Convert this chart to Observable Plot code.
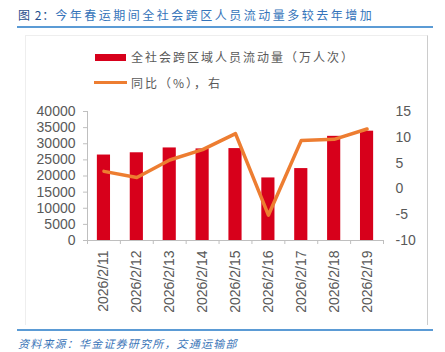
<!DOCTYPE html>
<html>
<head>
<meta charset="utf-8">
<script src="https://cdn.jsdelivr.net/npm/d3@7"></script>
<script src="https://cdn.jsdelivr.net/npm/@observablehq/plot@0.6"></script>
<style>
  html, body { margin: 0; padding: 0; background: #fff; }
  #wrap { position: relative; width: 445px; height: 352px; overflow: hidden; font-family: "Noto Sans CJK SC", "Liberation Sans", sans-serif; }
  .abs { position: absolute; white-space: nowrap; }
  #title { left: 18px; top: 6px; font-size: 12px; letter-spacing: 2.5px; color: #3574ba; line-height: 18px; }
  #title .pre { color: #1f4e8c; letter-spacing: 1px; }
  .rule { position: absolute; left: 17px; width: 416px; height: 2px; background: #5b9bd5; }
  #box { left: 25px; top: 35px; width: 401px; height: 289px; border: 1px solid #eeeeee; border-right-color: #cccccc; border-bottom: none; }
  .leg { font-size: 12px; letter-spacing: 2px; color: #595959; line-height: 16px; }
  #source { left: 18px; top: 335px; font-size: 11px; letter-spacing: 1.2px; font-style: italic; color: #3a75b8; line-height: 16px; }
  #chart { position: absolute; left: 0; top: 95px; }
</style>
</head>
<body>
<div id="wrap">
  <div class="abs" id="box"></div>
  <div class="abs" id="title"><span class="pre">图 2：</span>今年春运期间全社会跨区人员流动量多较去年增加</div>
  <div class="rule" style="top:26px"></div>
  <div class="abs" style="left:95px;top:54px;width:31px;height:7px;background:#d7001b"></div>
  <div class="abs leg" style="left:131px;top:49px">全社会跨区域人员流动量（万人次）</div>
  <div class="abs" style="left:94px;top:81px;width:33px;height:3px;background:#ed7d31"></div>
  <div class="abs leg" style="left:131px;top:75px">同比（%），右</div>
  <div id="chart"></div>
  <div class="rule" style="top:329px"></div>
  <div class="abs" id="source">资料来源：华金证券研究所，交通运输部</div>
</div>
<script>
const dates = ["2026/2/11","2026/2/12","2026/2/13","2026/2/14","2026/2/15","2026/2/16","2026/2/17","2026/2/18","2026/2/19"];
const volume = [26500, 27200, 28700, 28400, 28500, 19400, 22300, 32300, 33900];
const yoy = [3.4, 2.2, 5.6, 7.6, 10.7, -5.1, 9.4, 9.6, 11.6];
const leftTicks = [0, 5000, 10000, 15000, 20000, 25000, 30000, 35000, 40000];
const rightTicks = [-10, -5, 0, 5, 10, 15];

// right axis (-10..15) mapped onto left scale (0..40000)
const rMin = -10, rMax = 15, lMax = 40000;
const toLeft = v => (v - rMin) / (rMax - rMin) * lMax;
const fromLeft = y => Math.round(y / lMax * (rMax - rMin) + rMin);

const rows = dates.map((d, i) => ({date: d, i, volume: volume[i], yoy: yoy[i]}));
const half = 0.2;

const chart = Plot.plot({
  width: 445,
  height: 230,
  marginTop: 16,
  marginBottom: 85,
  marginLeft: 87,
  marginRight: 62,
  style: {fontFamily: "'Liberation Sans', Arial, sans-serif", fontSize: "14px", color: "#595959", background: "transparent"},
  x: {type: "linear", domain: [0, dates.length], axis: null},
  y: {domain: [0, lMax], axis: null},
  marks: [
    Plot.rectY(rows, {x1: d => d.i + 0.5 - half, x2: d => d.i + 0.5 + half, y1: 0, y2: "volume", fill: "#d7001b"}),
    Plot.ruleX([0], {y1: 0, y2: lMax, stroke: "#bfbfbf"}),
    Plot.ruleY([0], {x1: 0, x2: dates.length, stroke: "#bfbfbf"}),
    Plot.axisY({ticks: leftTicks, label: null, tickSize: 4, tickPadding: 8, stroke: "#bfbfbf", tickFormat: d => String(d), fill: "#595959", fontSize: 14}),
    Plot.axisY({anchor: "right", label: null, ticks: rightTicks.map(toLeft), tickSize: 0, tickPadding: 12, tickFormat: fromLeft, fill: "#595959", fontSize: 14}),
    Plot.axisX({ticks: d3.range(dates.length + 1), label: null, tickSize: 4, tickFormat: () => "", stroke: "#bfbfbf"}),
    Plot.axisX({ticks: rows.map(d => d.i + 0.5), label: null, tickSize: 0, tickPadding: 10, tickRotate: -90, tickFormat: v => dates[Math.round(v - 0.5)], fill: "#595959", fontSize: 14}),
    Plot.line(rows, {x: d => d.i + 0.5, y: d => toLeft(d.yoy), stroke: "#ed7d31", strokeWidth: 3.5, strokeLinejoin: "round"})
  ]
});
document.getElementById("chart").appendChild(chart);
</script>
</body>
</html>
